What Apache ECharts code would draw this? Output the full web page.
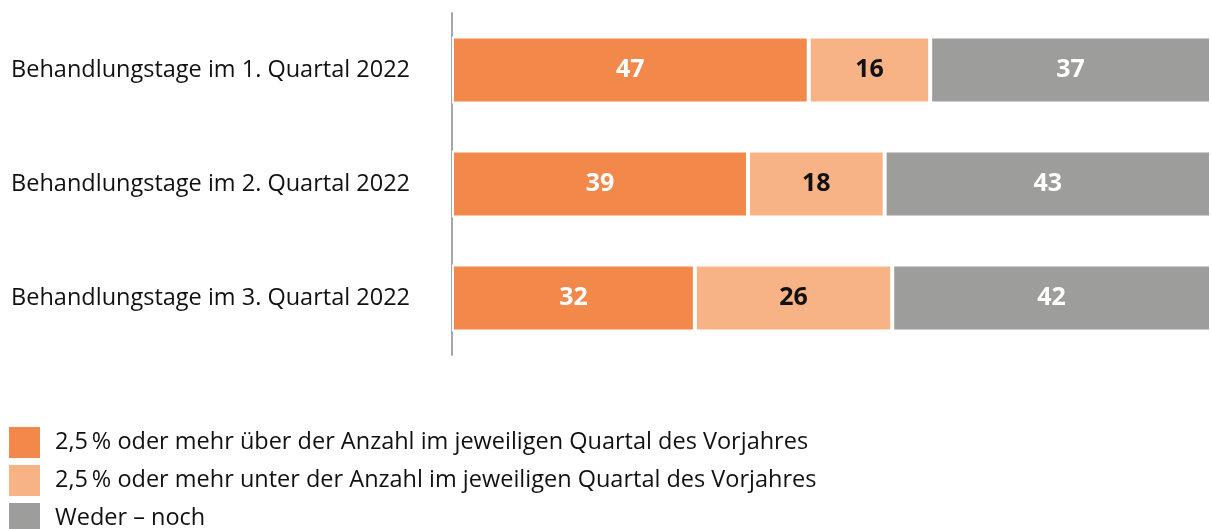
<!DOCTYPE html>
<html>
<head>
<meta charset="utf-8">
<script src="https://cdn.jsdelivr.net/npm/echarts@6/dist/echarts.min.js"></script>
<style>
html, body { margin: 0; padding: 0; background: #fff; }
#chart { width: 1211px; height: 529px; }
</style>
</head>
<body>
<div id="chart"></div>
<script>
var categories = ['Behandlungstage im 1. Quartal 2022', 'Behandlungstage im 2. Quartal 2022', 'Behandlungstage im 3. Quartal 2022'];
var seriesNames = ['2,5\u2009% oder mehr über der Anzahl im jeweiligen Quartal des Vorjahres', '2,5\u2009% oder mehr unter der Anzahl im jeweiligen Quartal des Vorjahres', 'Weder – noch'];
var ueber = [47, 39, 32];
var unter = [16, 18, 26];
var weder = [37, 43, 42];
var colors = ['#f2894b', '#f7b386', '#9d9d9b'];
var labelColors = ['#ffffff', '#111111', '#ffffff'];

var myChart = echarts.init(document.getElementById('chart'));
var fontFam = 'Open Sans';
var data = [ueber, unter, weder];
var series = [];
for (var i = 0; i < 3; i++) {
	series.push({
		name : seriesNames[i],
		type : 'bar',
		stack : 'total',
		barWidth : 67,
		data : data[i],
		itemStyle : {
			color : colors[i],
			borderColor : '#ffffff',
			borderWidth : 2
		},
		label : {
			show : true,
			position : 'inside',
			color : labelColors[i],
			fontFamily : fontFam,
			fontWeight : 'bold',
			fontSize : 25
		}
	});
}
var option = {
	animation : false,
	color : colors,
	grid : {
		left : 452,
		right : 0,
		top : 13,
		height : 342
	},
	legend : {
		orient : 'vertical',
		left : 9,
		top : 427,
		height : 120,
		padding : 0,
		itemWidth : 31,
		itemHeight : 31,
		itemGap : 7,
		icon : 'rect',
		itemStyle : {
			borderWidth : 0
		},
		textStyle : {
			fontFamily : fontFam,
			fontSize : 23.5,
			color : '#111',
			padding : [0, 0, 0, 10]
		},
		data : seriesNames
	},
	xAxis : {
		type : 'value',
		min : 0,
		max : 100,
		show : false
	},
	yAxis : {
		type : 'category',
		inverse : true,
		data : categories,
		axisLine : {
			show : true,
			lineStyle : { color : '#a6a6a6', width : 2 }
		},
		axisTick : { show : false },
		axisLabel : {
			margin : 42,
			color : '#111',
			fontFamily : fontFam,
			fontSize : 23.5
		}
	},
	series : series
};
myChart.setOption(option);
</script>
</body>
</html>
